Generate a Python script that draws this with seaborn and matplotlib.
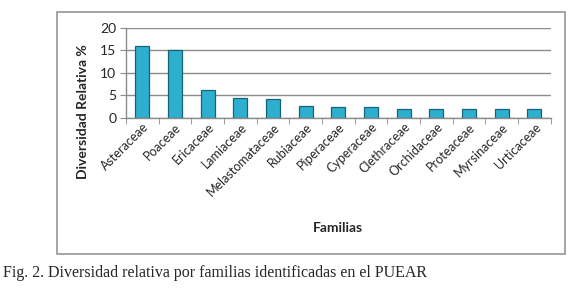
import numpy as np
import pandas as pd
import seaborn as sns
from matplotlib import pyplot as plt
from matplotlib.patches import Rectangle
from matplotlib.ticker import FixedLocator

# data
familias = ['Asteraceae', 'Poaceae', 'Ericaceae', 'Lamiaceae', 'Melastomataceae',
            'Rubiaceae', 'Piperaceae', 'Cyperaceae', 'Clethraceae', 'Orchidaceae',
            'Proteaceae', 'Myrsinaceae', 'Urticaceae']
diversidad = [16.0, 15.0, 6.1, 4.4, 4.15, 2.75, 2.5, 2.5, 1.9, 1.9, 1.9, 1.9, 1.9]
y_ticks = [0, 5, 10, 15, 20]

df = pd.DataFrame({'familia': familias, 'div': diversidad})

sns.set_style('white')
plt.rcParams['font.family'] = ['Lato', 'DejaVu Sans']

fig = plt.figure(figsize=(5.75, 2.93), dpi=100)
ax = fig.add_axes([126 / 575, 1 - 118 / 293, (550.7 - 126) / 575, (118 - 27.7) / 293])

sns.barplot(data=df, x='familia', y='div', color='#2FAFCE', width=0.43,
            edgecolor='#17637A', linewidth=0.9, saturation=1, ax=ax)

ax.set_ylim(0, 20)
ax.set_xlim(-0.5, len(familias) - 0.5)
ax.set_yticks(y_ticks)
ax.yaxis.grid(True, color='#8c8c8c', linewidth=1)
ax.set_axisbelow(True)
for s in ['top', 'right']:
    ax.spines[s].set_visible(False)
for s in ['left', 'bottom']:
    ax.spines[s].set_color('#8c8c8c')
    ax.spines[s].set_linewidth(1)

ax.set_xlabel('')
ax.set_ylabel('')
ax.tick_params(axis='y', labelsize=10, length=4, color='#8c8c8c', left=True, pad=3)
ax.tick_params(axis='x', which='major', length=0, labelsize=9, pad=2)
ax.xaxis.set_minor_locator(FixedLocator(np.arange(-0.5, len(familias), 1)))
ax.tick_params(axis='x', which='minor', length=4, color='#8c8c8c', bottom=True)
plt.setp(ax.get_xticklabels(), rotation=45, ha='right', rotation_mode='anchor')

fig.text(83 / 575, 1 - 112 / 293, 'Diversidad Relativa %', rotation=90,
         ha='center', va='center', fontsize=10, fontweight='bold')
fig.text(338 / 575, 1 - 228 / 293, 'Familias', ha='center', va='center',
         fontsize=10, fontweight='bold')

fig.patches.append(Rectangle((57 / 575, 1 - 254 / 293), (565 - 57) / 575, (254 - 12) / 293,
                             transform=fig.transFigure, fill=False,
                             edgecolor='#969696', linewidth=1.2))

fig.text(3 / 575, 1 - 273 / 293, 'Fig. 2. Diversidad relativa por familias identificadas en el PUEAR',
         ha='left', va='center', fontsize=11.5, family=['Liberation Serif'])

fig.savefig('out.png', dpi=100)
